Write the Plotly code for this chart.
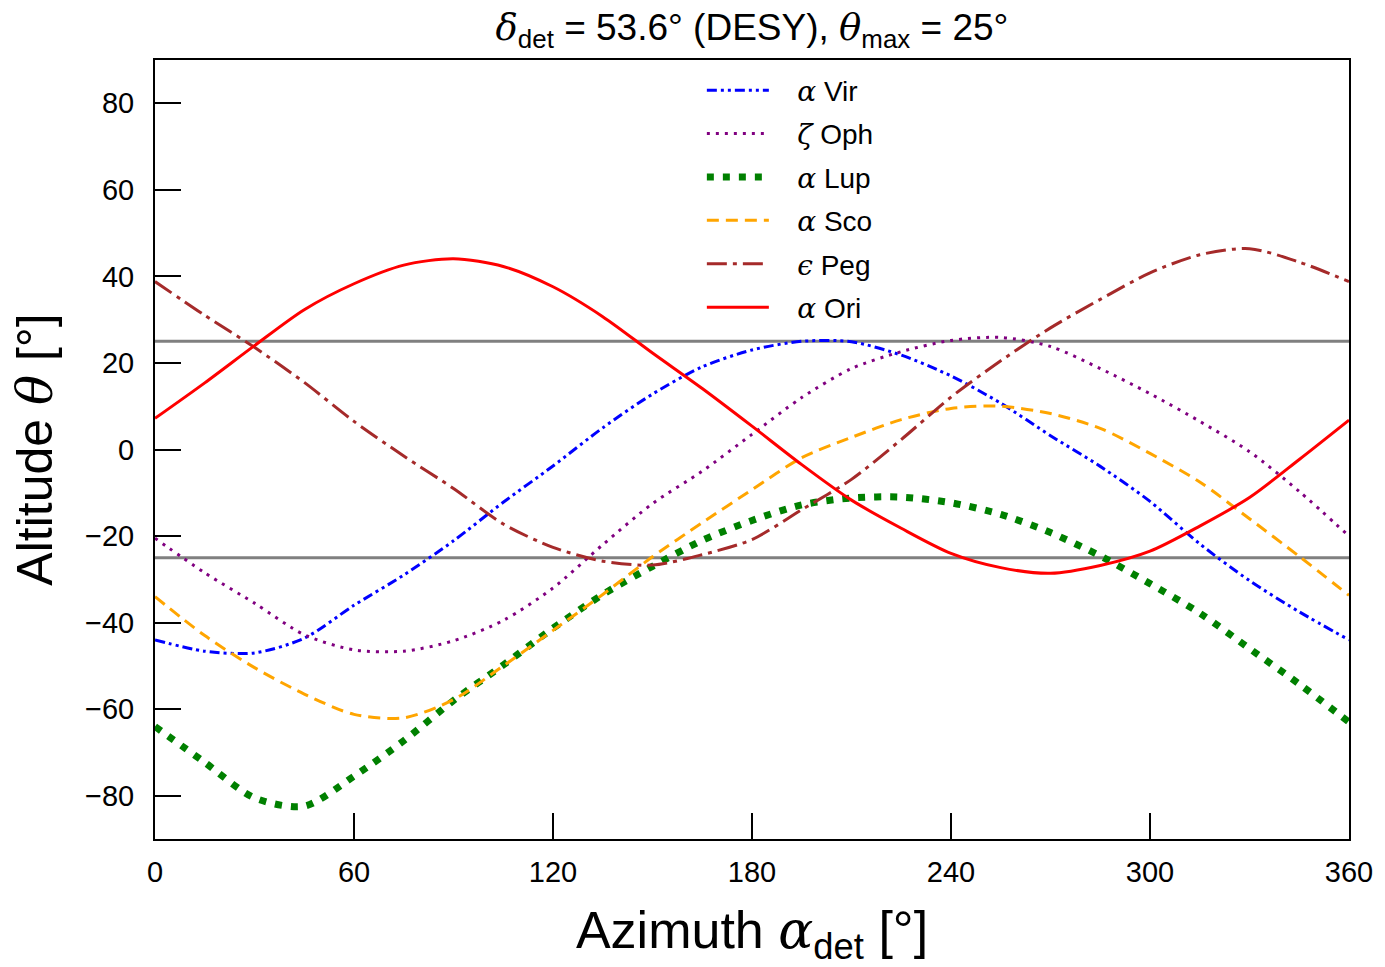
import plotly.graph_objects as go

# Azimuth grid (degrees) and altitude tracks of each source
azimuth = list(range(0, 361, 15))

alpha_vir = [-44, -46.6, -47, -43.6, -36, -29, -21.1, -12.2, -3.8, 5, 12.8, 19.1, 23,
             25, 24.9, 21.8, 17, 10.7, 3.2, -3.9, -12, -21.8, -30.3, -37.5, -44]
zeta_oph = [-20.5, -28.5, -35.5, -42.8, -46.3, -46.6, -44.2, -39.5, -32, -22, -12.5, -5, 3.5,
            12, 18.7, 22.6, 25.2, 25.9, 23.8, 18.7, 12.9, 6.5, -0.5, -9.7, -20]
alpha_lup = [-64, -72.3, -80.5, -82.4, -75.5, -67.3, -58, -49.8, -41.3, -33.5, -27, -21, -16.4,
             -12.8, -11.2, -11, -12.3, -15, -19.2, -24.6, -31, -37.8, -46, -54.2, -63]
alpha_sco = [-34, -43, -50.4, -56.5, -61.2, -62, -57.8, -50, -41.8, -33.5, -24.8, -16.9, -9.3,
             -1.9, 2.8, 6.9, 9.5, 10, 8.3, 4.9, -0.9, -7.5, -16, -24.7, -33.7]
eps_peg = [38.8, 31, 23.6, 15.5, 6.5, -1.5, -9, -17.2, -22.6, -25.8, -26.7, -24.3, -20.8,
           -13.9, -6.9, 2.3, 12.1, 20.5, 28.1, 34.7, 40.8, 45, 46.4, 43.3, 38.8]
alpha_ori = [7.2, 15.4, 24, 32.3, 38.3, 42.6, 44.1, 42.3, 37.6, 30.7, 22.3, 14.1, 5.4,
             -3.5, -11.7, -18.2, -24, -27.3, -28.6, -26.8, -23.5, -17.7, -11.1, -2.3, 6.8]

theta_max = 25


def greek(ch):
    """Italic serif glyph for math symbols."""
    return f'<span style="font-family:\'DejaVu Serif\'"><i>{ch}</i></span>'


pad = "\u00a0\u00a0\u00a0"
series = [
    (pad + greek("α") + " Vir", alpha_vir, "#0000ff", 3, "10px,4px,3px,4px,3px,4px"),
    (pad + greek("ζ") + " Oph", zeta_oph, "#800080", 3, "3px,6px"),
    (pad + greek("α") + " Lup", alpha_lup, "#008000", 7, "7px,9px"),
    (pad + greek("α") + " Sco", alpha_sco, "#ffa500", 3, "12px,7px"),
    (pad + greek("ϵ") + " Peg", eps_peg, "#a52a2a", 3, "20px,6px,4px,6px"),
    (pad + greek("α") + " Ori", alpha_ori, "#ff0000", 3, "solid"),
]

fig = go.Figure()
for i, (name, vals, color, width, dash) in enumerate(series):
    fig.add_trace(go.Scatter(
        x=azimuth, y=vals, mode="lines", name=name, legendgroup=f"g{i}",
        line=dict(color=color, width=width, dash=dash, shape="spline", smoothing=0.8),
    ))

# Altitude limits +/- theta_max
for yv in (theta_max, -theta_max):
    fig.add_shape(type="line", xref="paper", x0=0, x1=1, yref="y", y0=yv, y1=yv,
                  line=dict(color="#808080", width=3), layer="below")

axis_common = dict(
    showline=True, linecolor="black", linewidth=2, mirror=True,
    ticks="inside", ticklen=26, tickwidth=2, tickcolor="black",
    showgrid=False, zeroline=False,
    tickfont=dict(size=29, color="black"),
)

fig.update_layout(
    width=1385, height=967,
    margin=dict(l=155, r=30, t=60, b=128),
    paper_bgcolor="white", plot_bgcolor="white",
    font=dict(family="Liberation Sans, Arial, sans-serif", color="black"),
    title=dict(
        text=greek("δ") + "<sub>det</sub> = 53.6° (DESY), " + greek("θ") + "<sub>max</sub> = 25°",
        x=0.5, xref="paper", xanchor="center",
        y=0.972, yref="container", yanchor="middle",
        font=dict(size=37, color="black"),
    ),
    xaxis=dict(range=[0, 360], tickvals=[0, 60, 120, 180, 240, 300, 360],
               ticklabelstandoff=6,
               title=dict(text="Azimuth " + greek("α") + "<sub>det</sub> [°]",
                          font=dict(size=52), standoff=28),
               **axis_common),
    yaxis=dict(range=[-90, 90], tickvals=[-80, -60, -40, -20, 0, 20, 40, 60, 80],
               ticklabelstandoff=13,
               title=dict(text="Altitude " + greek("θ") + " [°]", font=dict(size=50), standoff=16),
               **axis_common),
    legend=dict(x=0.458, y=0.993, xanchor="left", yanchor="top",
                bgcolor="rgba(0,0,0,0)", font=dict(size=28),
                itemwidth=62, tracegroupgap=4),
    showlegend=True,
)

fig.write_html("out.html")
